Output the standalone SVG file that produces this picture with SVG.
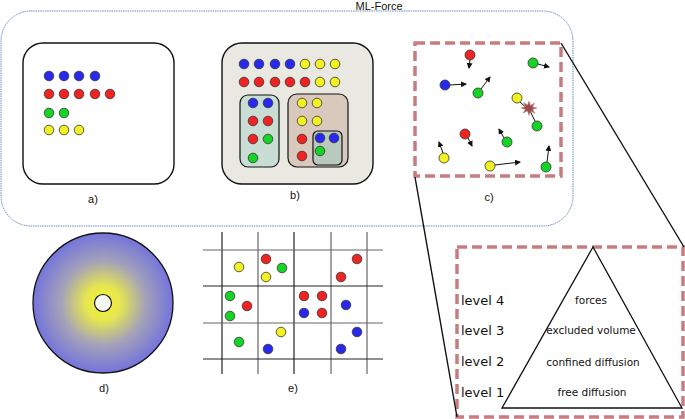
<svg xmlns="http://www.w3.org/2000/svg" width="685" height="419" viewBox="0 0 685 419">
<defs>
<style>
.lbl{font-family:"Liberation Sans",Arial,sans-serif;font-size:11px;fill:#111;text-anchor:middle}
.lvl{font-family:"DejaVu Sans",sans-serif;font-size:13px;fill:#111}
.tri{font-family:"DejaVu Sans",sans-serif;font-size:10.5px;fill:#111;text-anchor:middle}
.box{fill:#fff;stroke:#111;stroke-width:1.4}
.dash{fill:none;stroke:#c97c80;stroke-width:3.5;stroke-dasharray:10,5}
circle.b{fill:#2828ee;stroke:#333;stroke-width:0.8}
circle.r{fill:#f02222;stroke:#333;stroke-width:0.8}
circle.g{fill:#14d424;stroke:#333;stroke-width:0.8}
circle.y{fill:#f2f222;stroke:#333;stroke-width:0.8}
.arr{stroke:#111;stroke-width:1;fill:none;marker-end:url(#ah)}
.gk{stroke:#222;stroke-width:1.2}
.gg{stroke:#666;stroke-width:1.2}
</style>
<marker id="ah" markerWidth="6" markerHeight="6" refX="5" refY="3" orient="auto" markerUnits="userSpaceOnUse">
<path d="M0,0 L6,3 L0,6 z" fill="#111"/>
</marker>
<radialGradient id="rg" cx="0.5" cy="0.5" r="0.5">
<stop offset="0" stop-color="#f4f430"/>
<stop offset="0.25" stop-color="#e6e650"/>
<stop offset="0.6" stop-color="#a4a2b8"/>
<stop offset="1" stop-color="#7474dc"/>
</radialGradient>
</defs>
<rect width="685" height="419" fill="#fff"/>

<g id="ml-force">
<rect x="1" y="11" width="572" height="215" rx="30" fill="none" stroke="#6a8ac0" stroke-width="1" stroke-dasharray="1.5,0.8"/>
<text x="379" y="9.5" class="lbl">ML-Force</text>
</g>

<g id="panel-a">
<rect class="box" x="23" y="43" width="151" height="141" rx="20"/>
<circle class="b" cx="49" cy="76" r="4.8"/><circle class="b" cx="64" cy="76" r="4.8"/><circle class="b" cx="79" cy="76" r="4.8"/><circle class="b" cx="95" cy="76" r="4.8"/>
<circle class="r" cx="49" cy="94" r="4.8"/><circle class="r" cx="64" cy="94" r="4.8"/><circle class="r" cx="79" cy="94" r="4.8"/><circle class="r" cx="95" cy="94" r="4.8"/><circle class="r" cx="110" cy="94" r="4.8"/>
<circle class="g" cx="49" cy="113" r="4.8"/><circle class="g" cx="64" cy="113" r="4.8"/>
<circle class="y" cx="49" cy="130" r="4.8"/><circle class="y" cx="64" cy="130" r="4.8"/><circle class="y" cx="79" cy="130" r="4.8"/>
<text x="93" y="203" class="lbl">a)</text>
</g>

<g id="panel-b">
<rect x="222" y="43" width="151" height="141" rx="20" fill="#e9e9e1" stroke="#111" stroke-width="1.4"/>
<circle class="b" cx="244" cy="64" r="4.8"/><circle class="b" cx="259" cy="64" r="4.8"/><circle class="b" cx="275" cy="64" r="4.8"/><circle class="b" cx="290" cy="64" r="4.8"/>
<circle class="y" cx="305" cy="64" r="4.8"/><circle class="y" cx="320" cy="64" r="4.8"/><circle class="y" cx="335" cy="64" r="4.8"/>
<circle class="r" cx="244" cy="82" r="4.8"/><circle class="r" cx="259" cy="82" r="4.8"/><circle class="r" cx="275" cy="82" r="4.8"/><circle class="r" cx="290" cy="82" r="4.8"/><circle class="r" cx="305" cy="82" r="4.8"/>
<circle class="y" cx="320" cy="82" r="4.8"/><circle class="y" cx="335" cy="82" r="4.8"/>
<rect x="240" y="95" width="39" height="72" rx="8" fill="#c9ddd5" stroke="#111" stroke-width="1.2"/>
<circle class="b" cx="253" cy="103" r="4.8"/><circle class="b" cx="268" cy="103" r="4.8"/>
<circle class="r" cx="253" cy="121" r="4.8"/><circle class="r" cx="268" cy="121" r="4.8"/>
<circle class="r" cx="253" cy="139" r="4.8"/><circle class="g" cx="268" cy="139" r="4.8"/>
<circle class="g" cx="253" cy="158" r="4.8"/>
<rect x="288" y="94" width="60" height="73" rx="9" fill="#d9c9bd" stroke="#111" stroke-width="1.2"/>
<circle class="y" cx="302" cy="103" r="4.8"/><circle class="y" cx="317" cy="103" r="4.8"/>
<circle class="y" cx="302" cy="121" r="4.8"/><circle class="y" cx="317" cy="121" r="4.8"/>
<circle class="r" cx="302" cy="139" r="4.8"/>
<circle class="r" cx="302" cy="156" r="4.8"/>
<rect x="313" y="131" width="29" height="34" rx="5" fill="#b9c9bd" stroke="#111" stroke-width="1.2"/>
<circle class="b" cx="320" cy="138" r="4.8"/><circle class="b" cx="334" cy="138" r="4.8"/>
<circle class="g" cx="320" cy="151" r="4.8"/>
<text x="295" y="199" class="lbl">b)</text>
</g>

<g id="panel-c">
<rect class="dash" x="415" y="43" width="146" height="133"/>
<line class="arr" x1="470" y1="60" x2="469" y2="68"/>
<circle class="r" cx="470" cy="55" r="5"/>
<line class="arr" x1="538" y1="64" x2="549" y2="67"/>
<circle class="g" cx="533" cy="63" r="5"/>
<line class="arr" x1="450" y1="85" x2="466" y2="84"/>
<circle class="b" cx="445" cy="85" r="5"/>
<line class="arr" x1="481" y1="89" x2="490" y2="77"/>
<circle class="g" cx="478" cy="93" r="5"/>
<line class="arr" x1="520" y1="102" x2="530" y2="111"/>
<line x1="535" y1="121" x2="530" y2="111" stroke="#111" stroke-width="1"/>
<polygon points="529,101 530.5,105.5 534.5,103 532.5,107 537,108 532.5,109.5 535,113.5 530.5,111 529,115.5 527.5,111 523,113 525.5,109.5 521,108 525.5,106.5 523.5,102.5 527.5,105" fill="#9a4a48" stroke="#c88a86" stroke-width="0.6"/>
<circle class="y" cx="517" cy="98" r="5"/>
<circle class="g" cx="537" cy="126" r="5"/>
<line class="arr" x1="468" y1="138" x2="472" y2="146"/>
<circle class="r" cx="465" cy="134" r="5"/>
<line class="arr" x1="504" y1="138" x2="499" y2="129"/>
<circle class="g" cx="507" cy="142" r="5"/>
<line class="arr" x1="443" y1="153" x2="439" y2="142"/>
<circle class="y" cx="444" cy="158" r="5"/>
<line class="arr" x1="495" y1="165" x2="520" y2="162"/>
<circle class="y" cx="490" cy="166" r="5"/>
<line class="arr" x1="547" y1="162" x2="549" y2="146"/>
<circle class="g" cx="546" cy="167" r="5"/>
<text x="489" y="201" class="lbl">c)</text>
</g>

<g id="panel-d">
<circle cx="103" cy="303" r="70" fill="url(#rg)" stroke="#111" stroke-width="1.3"/>
<circle cx="103" cy="303" r="8.5" fill="#f6f6f2" stroke="#111" stroke-width="1.2"/>
<text x="104" y="392" class="lbl">d)</text>
</g>

<g id="panel-e">
<line class="gk" x1="222" y1="232" x2="222" y2="374"/>
<line class="gg" x1="258" y1="232" x2="258" y2="374"/>
<line class="gk" x1="294" y1="232" x2="294" y2="374"/>
<line class="gg" x1="331" y1="232" x2="331" y2="374"/>
<line class="gg" x1="367" y1="232" x2="367" y2="374"/>
<line class="gg" x1="203" y1="250" x2="383" y2="250"/>
<line class="gk" x1="203" y1="286" x2="383" y2="286"/>
<line class="gg" x1="203" y1="323" x2="383" y2="323"/>
<line class="gk" x1="203" y1="359" x2="383" y2="359"/>
<circle class="y" cx="239" cy="267" r="4.8"/>
<circle class="r" cx="266" cy="259" r="4.8"/>
<circle class="g" cx="282" cy="268" r="4.8"/>
<circle class="y" cx="266" cy="277" r="4.8"/>
<circle class="r" cx="357" cy="259" r="4.8"/>
<circle class="r" cx="341" cy="277" r="4.8"/>
<circle class="g" cx="230" cy="296" r="4.8"/>
<circle class="r" cx="247" cy="306" r="4.8"/>
<circle class="g" cx="230" cy="316" r="4.8"/>
<circle class="r" cx="304" cy="296" r="4.8"/>
<circle class="r" cx="322" cy="296" r="4.8"/>
<circle class="b" cx="304" cy="313" r="4.8"/>
<circle class="r" cx="322" cy="313" r="4.8"/>
<circle class="b" cx="346" cy="305" r="4.8"/>
<circle class="y" cx="281" cy="332" r="4.8"/>
<circle class="g" cx="239" cy="342" r="4.8"/>
<circle class="b" cx="268" cy="349" r="4.8"/>
<circle class="b" cx="357" cy="332" r="4.8"/>
<circle class="b" cx="341" cy="349" r="4.8"/>
<text x="293" y="392" class="lbl">e)</text>
</g>

<g id="levels">
<rect class="dash" x="457" y="247" width="226" height="170"/>
<polygon points="593,247 502,408 682,408" fill="#fff" stroke="#111" stroke-width="1.3"/>
<text x="461" y="305" class="lvl">level 4</text>
<text x="461" y="335" class="lvl">level 3</text>
<text x="461" y="366" class="lvl">level 2</text>
<text x="461" y="397" class="lvl">level 1</text>
<text x="591" y="304" class="tri">forces</text>
<text x="591" y="334" class="tri">excluded volume</text>
<text x="593" y="366" class="tri">confined diffusion</text>
<text x="592" y="396" class="tri">free diffusion</text>
</g>

<g id="connectors">
<line x1="561" y1="43" x2="684" y2="247" stroke="#111" stroke-width="1.4"/>
<line x1="415" y1="177" x2="457" y2="417" stroke="#111" stroke-width="1.4"/>
</g>
</svg>
